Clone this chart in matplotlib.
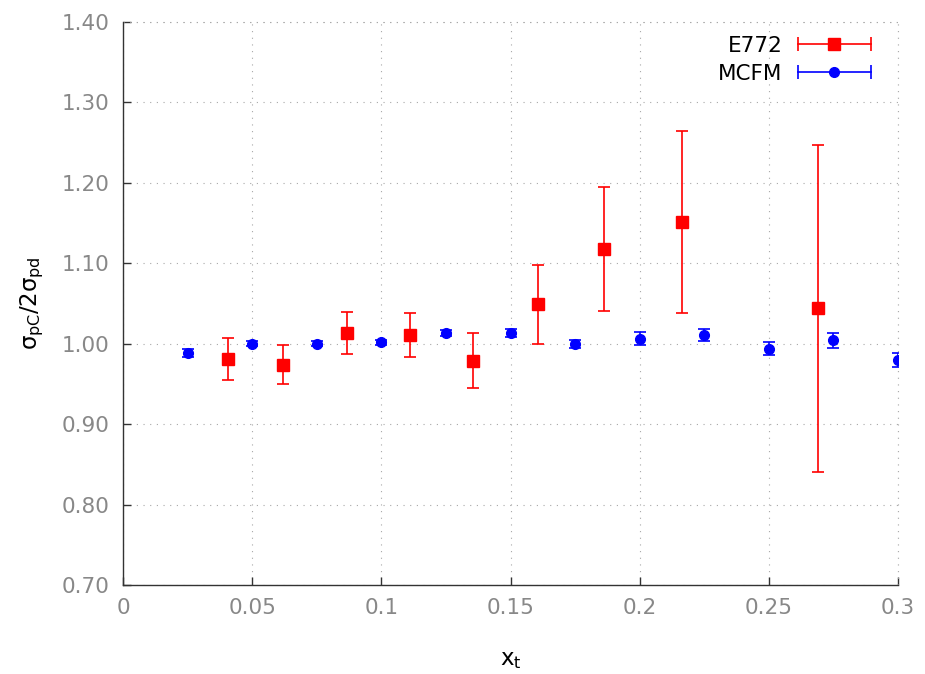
import matplotlib
matplotlib.use("Agg")
import matplotlib.pyplot as plt
from matplotlib.lines import Line2D
from matplotlib.legend_handler import HandlerLine2D, HandlerTuple

# E772 data
e772_x = [0.0408, 0.0621, 0.0866, 0.1111, 0.1356, 0.1608, 0.1860, 0.2163, 0.2692]
e772_y = [0.981, 0.974, 1.013, 1.011, 0.979, 1.049, 1.118, 1.151, 1.044]
e772_err = [0.026, 0.024, 0.026, 0.027, 0.034, 0.049, 0.077, 0.113, 0.203]

# MCFM
mcfm_x = [0.025, 0.05, 0.075, 0.1, 0.125, 0.15, 0.175, 0.2, 0.225, 0.25, 0.275, 0.3]
mcfm_y = [0.989, 1.000, 1.000, 1.002, 1.013, 1.013, 1.000, 1.006, 1.011, 0.994, 1.004, 0.980]
mcfm_err = [0.005, 0.003, 0.003, 0.003, 0.004, 0.005, 0.005, 0.008, 0.0075, 0.008, 0.0095, 0.009]

x_ticks = [0, 0.05, 0.1, 0.15, 0.2, 0.25, 0.3]
x_tick_labels = ["0", "0.05", "0.1", "0.15", "0.2", "0.25", "0.3"]
y_ticks = [0.70, 0.80, 0.90, 1.00, 1.10, 1.20, 1.30, 1.40]

FS = 15.5
TICK_GREY = "#888888"

fig = plt.figure(figsize=(9.25, 6.74), dpi=100)
ax = fig.add_axes([123 / 925, 1 - 585 / 674, 775 / 925, 563 / 674])

ax.errorbar(e772_x, e772_y, yerr=e772_err, fmt="s", color="#ff0000",
            ms=8, elinewidth=1.2, capsize=4.5, capthick=1.2, zorder=3)
ax.errorbar(mcfm_x, mcfm_y, yerr=mcfm_err, fmt="o", color="#0000ff",
            ms=7, elinewidth=1.2, capsize=4.5, capthick=1.2, zorder=3)

ax.set_xlim(0, 0.3)
ax.set_ylim(0.70, 1.40)
ax.set_xticks(x_ticks)
ax.set_xticklabels(x_tick_labels)
ax.set_yticks(y_ticks)
ax.set_yticklabels([f"{v:.2f}" for v in y_ticks])

ax.tick_params(direction="in", length=6, width=1, labelsize=FS,
               labelcolor=TICK_GREY, color="#333333", top=False, right=False)
ax.tick_params(axis="y", pad=10)
ax.tick_params(axis="x", pad=9)

for side in ["top", "right"]:
    ax.spines[side].set_visible(False)
for side in ["left", "bottom"]:
    ax.spines[side].set_color("#333333")
    ax.spines[side].set_linewidth(1)

ax.grid(True, color="#a8a8a8", linestyle=(0, (1, 5)), linewidth=0.8)
# extra dotted lines at the open top and right edges
ax.axhline(1.40, color="#a8a8a8", linestyle=(0, (1, 5)), linewidth=0.8, clip_on=False)
ax.axvline(0.3, color="#a8a8a8", linestyle=(0, (1, 5)), linewidth=0.8, clip_on=False)

ax.set_xlabel(r"$\mathregular{x_t}$", fontsize=FS + 1, labelpad=22)
ax.set_ylabel(r"$\mathregular{\sigma_{pC}/2\sigma_{pd}}$", fontsize=FS + 1, labelpad=11)

# legend: horizontal bar with caps, marker in the middle
red_main = Line2D([], [], color="#ff0000", marker="s", ms=8, lw=1.2)
red_caps = Line2D([], [], color="#ff0000", marker="|", ms=10, mew=1.2, ls="none")
blue_main = Line2D([], [], color="#0000ff", marker="o", ms=7, lw=1.2)
blue_caps = Line2D([], [], color="#0000ff", marker="|", ms=10, mew=1.2, ls="none")
caps_handler = HandlerLine2D(numpoints=2, marker_pad=0)
leg = ax.legend([(red_main, red_caps), (blue_main, blue_caps)], ["E772", "MCFM"],
                handler_map={red_caps: caps_handler, blue_caps: caps_handler,
                             tuple: HandlerTuple(ndivide=1, pad=0)},
                loc="upper right", bbox_to_anchor=(871 / 925, 1 - 36 / 674),
                bbox_transform=fig.transFigure, frameon=False, markerfirst=False,
                numpoints=1, fontsize=FS, handlelength=3.4, handletextpad=0.7,
                labelspacing=0.35, borderpad=0, borderaxespad=0)

fig.savefig("out.png", dpi=100)
